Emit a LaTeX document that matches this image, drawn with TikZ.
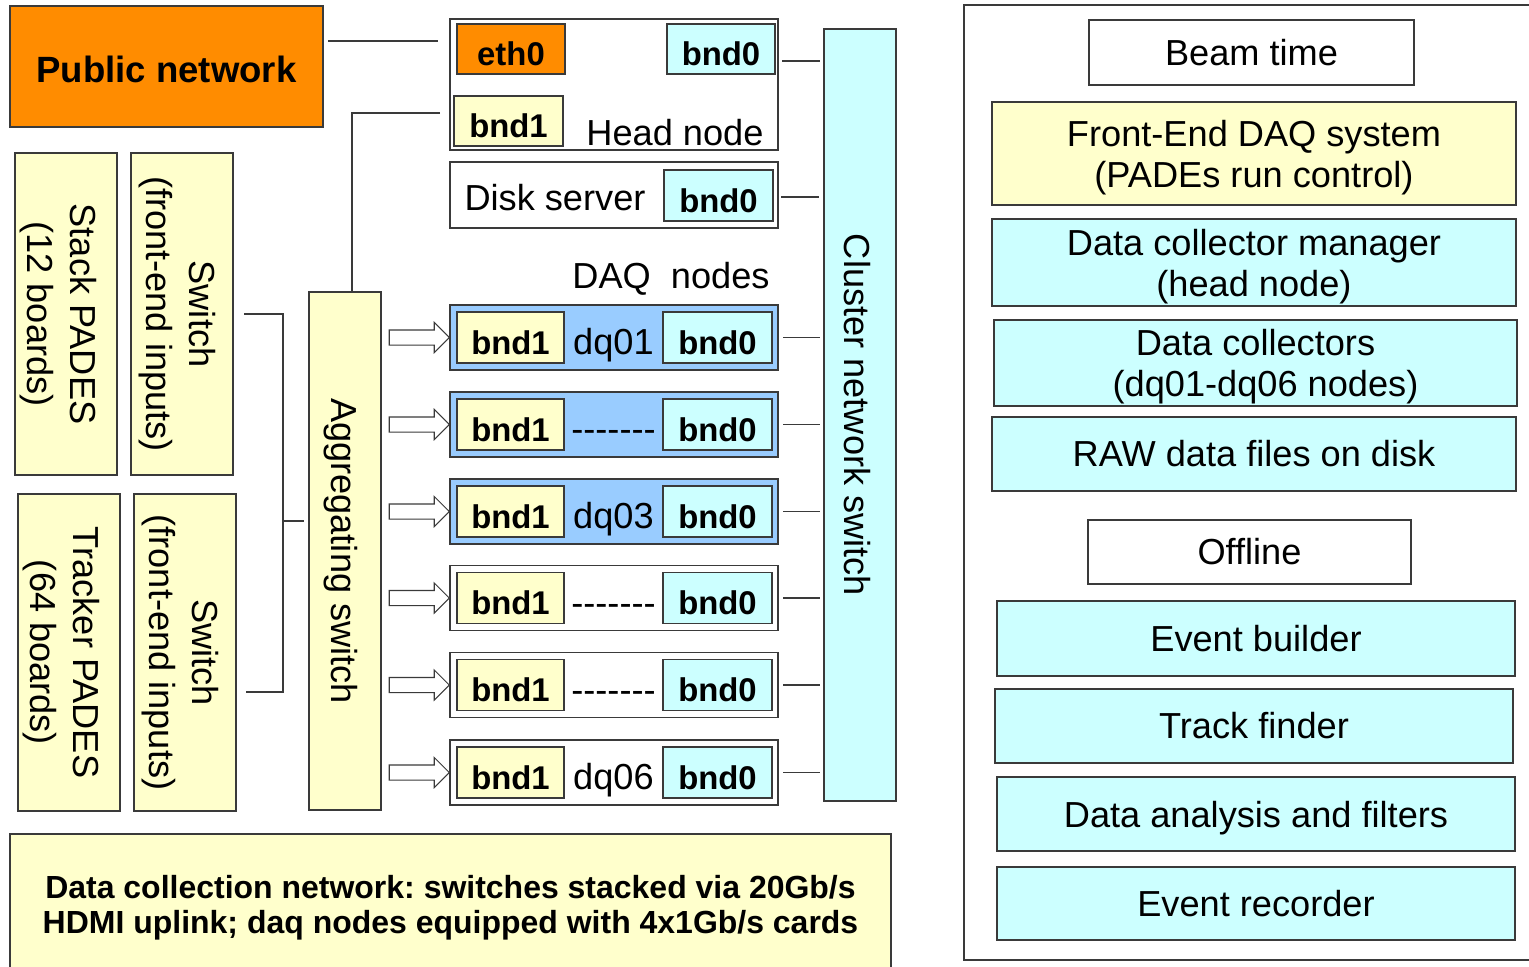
\documentclass[tikz,border=0pt]{standalone}
\usepackage{fontspec}
\setmainfont{Liberation Sans}
\newfontfamily\nolig{Liberation Sans}
\usepackage{graphicx}
\usetikzlibrary{shapes.arrows,calc}

\definecolor{porange}{HTML}{FF8C00}
\definecolor{pyellow}{HTML}{FFFFCC}
\definecolor{pcyan}{HTML}{CCFFFF}
\definecolor{pblue}{HTML}{99CCFF}
\definecolor{edge}{HTML}{3A3A3A}

% box given by its corners (x1,y1) (x2,y2) in pixel units
\newcommand{\mkbox}[7]{%
  \node[#2,minimum width={((#5)-(#3))*0.02cm},minimum height={((#6)-(#4))*0.02cm}]
    (#1) at ({((#3)+(#5))/2},{((#4)+(#6))/2}) {#7};}
% text lowered inside its box, keeping the box size
\newcommand{\dn}[2]{\raisebox{-#1}[\height][\depth]{#2}}
% centred lines, lowered by #1
\newcommand{\ml}[2]{\dn{#1}{\begin{tabular}{@{}c@{}}#2\end{tabular}}}
% centred lines read from top to bottom
\newcommand{\vtext}[2]{\rotatebox{-90}{\ml{#1}{#2}}}

\tikzset{
  box/.style={draw=edge,line width=0.8pt,inner sep=0pt,outer sep=0pt,
    align=center,font=\fontsize{20.6}{23.5}\selectfont},
  wht/.style={box,fill=white},
  yel/.style={box,fill=pyellow},
  cyn/.style={box,fill=pcyan},
  blu/.style={box,fill=pblue},
  org/.style={box,fill=porange},
  port/.style={font=\bfseries\fontsize{18.7}{20}\selectfont},
  vbig/.style={font=\fontsize{20.6}{24.5}\selectfont},
  txt/.style={inner sep=0pt,font=\fontsize{20.6}{23.5}\selectfont},
  wire/.style={draw=edge,line width=0.6pt},
  harrow/.style={single arrow,draw=edge,fill=white,line width=0.6pt,
    inner sep=0pt,inner ysep=0.14cm,single arrow head extend=0.15cm,
    minimum height=1.2cm,outer sep=0pt},
}

\begin{document}
\frenchspacing
\begin{tikzpicture}[x=0.02cm,y=-0.02cm]
\useasboundingbox (0,0) rectangle (1529,967);

% ---- public network and head node
\mkbox{pub}{org,font=\bfseries\fontsize{20.8}{24}\selectfont}{10}{6}{323}{127}{\dn{0.06cm}{Public network}}
\mkbox{head}{wht}{450}{19}{778}{150}{}
\mkbox{eth}{org,port}{457}{24}{565}{74}{\dn{0.1cm}{eth0}}
\mkbox{hbz}{cyn,port}{667}{24}{775}{74}{\dn{0.1cm}{bnd0}}
\mkbox{hbo}{yel,port}{454}{96}{563}{146}{\dn{0.1cm}{bnd1}}
\node[txt] (headlbl) at (675,132.7) {Head node};

% ---- disk server
\mkbox{disk}{wht}{450}{162}{778}{228}{}
\node[txt] (disklbl) at (555,198) {Disk server};
\mkbox{dbz}{cyn,port}{664}{170}{773}{221}{\dn{0.1cm}{bnd0}}

% ---- switches and PADES crates
\mkbox{csw}{cyn}{824}{29}{896}{801}{\vtext{0.14cm}{Cluster network switch}}
\mkbox{agg}{yel}{309}{292}{381}{810}{\vtext{0.1cm}{Aggregating switch}}
\mkbox{spad}{yel,vbig}{15}{153}{117}{475}{\vtext{0.16cm}{Stack PADES\\(12 boards)}}
\mkbox{swa}{yel,vbig}{131}{153}{233}{475}{\vtext{0.11cm}{Switch\\(front-end inputs)}}
\mkbox{tpad}{yel,vbig}{18}{494}{120}{811}{\vtext{0.16cm}{Tracker PADES\\(64 boards)}}
\mkbox{swb}{yel,vbig}{134}{494}{236}{811}{\vtext{0.11cm}{Switch\\(front-end inputs)}}

\node[txt] (daqlbl) at (671,279) {DAQ\ \ nodes};

% ---- DAQ nodes
\foreach \i/\y/\st/\lab in {1/337.5/blu/dq01, 2/424.5/blu/{\nolig -------},
    3/511.5/blu/dq03, 4/598/wht/{\nolig -------}, 5/685/wht/{\nolig -------},
    6/772.5/wht/dq06}{
  \mkbox{r\i}{\st}{450}{\y-32.5}{778}{\y+32.5}{}
  \mkbox{ra\i}{yel,port}{457}{\y-25.5}{564}{\y+25.5}{\dn{0.1cm}{bnd1}}
  \mkbox{rb\i}{cyn,port}{663}{\y-25.5}{772}{\y+25.5}{\dn{0.1cm}{bnd0}}
  \node[txt,anchor=base] (rl\i) at ($(ra\i.east)!0.5!(rb\i.west)+(0,17)$) {\lab};
  \node[harrow] (ar\i) at ($(agg.east |- r\i.west)!0.5!(r\i.west)$) {};
  \draw[wire,shorten <=0.1cm,shorten >=0.08cm] (r\i.east) -- (csw.west |- r\i.east);
}

% ---- wiring
\draw[wire,shorten <=0.1cm,shorten >=0.24cm] (pub.east |- 0,41) -- (head.west |- 0,41);
\draw[wire,shorten <=0.2cm] (head.west |- 0,113) -| (agg.north -| 352,0);
\draw[wire,shorten <=0.08cm,shorten >=0.08cm] (head.east |- 0,61) -- (csw.west |- 0,61);
\draw[wire,shorten <=0.06cm,shorten >=0.1cm] (disk.east |- 0,197) -- (csw.west |- 0,197);
\coordinate (bkt) at (283,521);
\draw[wire,shorten <=0.22cm] (swa.east) -| (bkt);
\draw[wire] (bkt) |- ([xshift=0.2cm,yshift=-0.79cm]swb.east);
\draw[wire,shorten >=0.1cm] (bkt) -- (bkt -| agg.west);

% ---- note
\mkbox{note}{yel,font=\bfseries\fontsize{18.2}{20}\selectfont}{10}{834}{891}{974}%
  {\ml{0.1cm}{Data collection network: switches stacked via 20Gb/s\\HDMI uplink; daq nodes equipped with 4x1Gb/s cards}}

% ---- processing chain
\mkbox{panel}{wht}{964}{5}{1580}{960}{}
\mkbox{beam}{wht}{1089}{20}{1414}{85}{Beam time}
\mkbox{fed}{yel}{992}{102}{1516}{205}{\ml{0.1cm}{Front-End DAQ system\\(PADEs run control)}}
\mkbox{dcm}{cyn}{992}{219}{1516}{306}{\ml{0.1cm}{Data collector manager\\(head node)}}
\mkbox{dcs}{cyn}{994}{320}{1517}{406}{\ml{0.1cm}{Data collectors\\\hspace*{0.4cm}(dq01-dq06 nodes)}}
\mkbox{raw}{cyn}{992}{417}{1516}{491}{RAW data files on disk}
\mkbox{off}{wht}{1088}{520}{1411}{584}{Offline}
\mkbox{evb}{cyn}{997}{601}{1515}{676}{Event builder}
\mkbox{trk}{cyn}{995}{689}{1513}{763}{Track finder}
\mkbox{ana}{cyn,text depth=0pt}{997}{777}{1515}{851}{Data analysis and filters}
\mkbox{evr}{cyn}{997}{867}{1515}{940}{Event recorder}
\end{tikzpicture}
\end{document}
